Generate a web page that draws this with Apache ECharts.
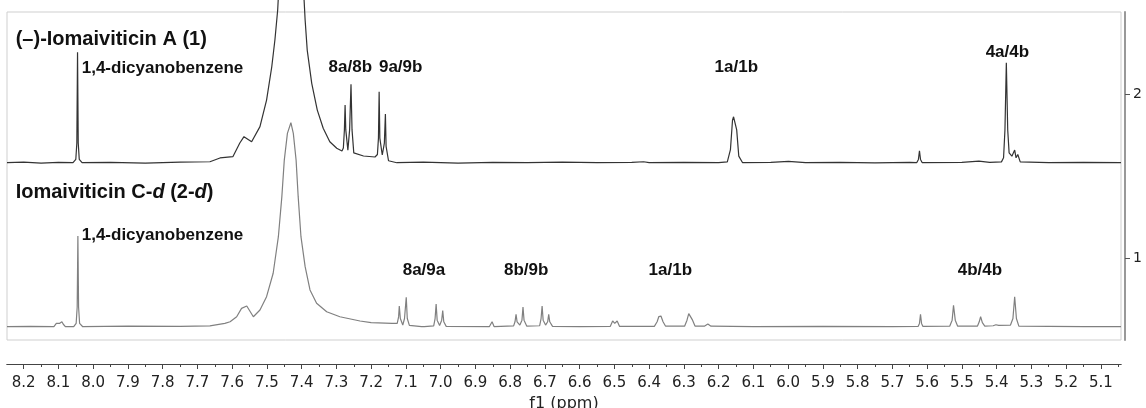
<!DOCTYPE html>
<html>
<head>
<meta charset="utf-8">
<script src="https://cdn.jsdelivr.net/npm/echarts@6/dist/echarts.min.js"></script>
<style>
  html, body { margin: 0; padding: 0; background: #fff; }
  #main { width: 1146px; height: 408px; }
</style>
</head>
<body>
<div id="main"></div>
<script>
  // axis range (ppm, shown high -> low)
  var ppmMin = 5.042, ppmMax = 8.248;
  var majorTicks = [8.2, 8.1, 8.0, 7.9, 7.8, 7.7, 7.6, 7.5, 7.4, 7.3, 7.2, 7.1, 7.0, 6.9, 6.8, 6.7,
    6.6, 6.5, 6.4, 6.3, 6.2, 6.1, 6.0, 5.9, 5.8, 5.7, 5.6, 5.5, 5.4, 5.3, 5.2, 5.1];
  var minorTicks = [8.15, 8.05, 7.95, 7.85, 7.75, 7.65, 7.55, 7.45, 7.35, 7.25, 7.15, 7.05, 6.95, 6.85,
    6.75, 6.65, 6.55, 6.45, 6.35, 6.25, 6.15, 6.05, 5.95, 5.85, 5.75, 5.65, 5.55, 5.45, 5.35, 5.25, 5.15, 5.05];
  var stackTicks = [1, 2];

  // stacked spectra: baseline of each trace on the stack axis
  var topOffset = 1.581;
  var botOffset = 0.581;

  // (-)-lomaiviticin A (1)
  var topPpm = [8.248, 8.20, 8.15, 8.10, 8.058, 8.050, 8.047, 8.045, 8.043, 8.040, 8.032, 7.95, 7.85, 7.75,
    7.664, 7.635, 7.598, 7.578, 7.566, 7.544, 7.520, 7.501, 7.486, 7.477, 7.469, 7.460, 7.430, 7.400,
    7.393, 7.390, 7.384, 7.371, 7.355, 7.338, 7.319, 7.299, 7.284, 7.280, 7.277, 7.275, 7.273, 7.267,
    7.262, 7.258, 7.255, 7.250, 7.222, 7.189, 7.182, 7.179, 7.177, 7.175, 7.168, 7.162, 7.159, 7.157,
    7.150, 7.126, 7.05, 6.95, 6.85, 6.75, 6.65, 6.55, 6.45, 6.416, 6.40, 6.30, 6.20, 6.175, 6.166, 6.160,
    6.157, 6.153, 6.148, 6.142, 6.131, 6.05, 5.999, 5.95, 5.85, 5.75, 5.65, 5.630, 5.625, 5.622, 5.619,
    5.614, 5.50, 5.451, 5.42, 5.386, 5.380, 5.376, 5.372, 5.368, 5.364, 5.359, 5.356, 5.348, 5.344,
    5.339, 5.332, 5.25, 5.15, 5.042];
  var topInt = [0, 0.003, -0.002, 0.002, 0, 0.02, 0.12, 0.673, 0.12, 0.02, 0, 0.002, -0.002, 0.003,
    0.006, 0.029, 0.037, 0.12, 0.159, 0.128, 0.220, 0.382, 0.585, 0.748, 0.931, 1.3, 1.8, 1.3,
    0.992, 0.870, 0.687, 0.484, 0.321, 0.210, 0.128, 0.088, 0.071, 0.09, 0.2, 0.352, 0.2, 0.077,
    0.2, 0.478, 0.2, 0.06, 0.041, 0.035, 0.05, 0.15, 0.433, 0.15, 0.047, 0.12, 0.297, 0.1,
    0.012, 0, 0.003, -0.002, 0.002, 0, 0.003, 0.001, 0.002, 0.006, 0.001, 0.002, 0, 0.005, 0.08, 0.26,
    0.28, 0.275, 0.2, 0.04, 0, 0.002, 0.008, 0, 0.002, -0.001, 0.002, 0, 0.02, 0.073, 0.02,
    0, 0.002, 0.01, 0.002, 0.005, 0.03, 0.2, 0.61, 0.2, 0.06, 0.053, 0.04, 0.077, 0.03,
    0.05, 0.005, 0, 0.002, 0];

  // lomaiviticin C-d (2-d)
  var botPpm = [8.248, 8.18, 8.113, 8.106, 8.104, 8.097, 8.090, 8.086, 8.080, 8.056, 8.049, 8.046, 8.044,
    8.042, 8.039, 8.030, 7.90, 7.75, 7.664, 7.621, 7.606, 7.587, 7.573, 7.558, 7.539, 7.520, 7.501,
    7.482, 7.467, 7.457, 7.450, 7.441, 7.431, 7.424, 7.416, 7.410, 7.402, 7.390, 7.376, 7.357, 7.328,
    7.290, 7.232, 7.20, 7.14, 7.125, 7.121, 7.119, 7.116, 7.109, 7.104, 7.099, 7.096, 7.090, 7.055,
    7.051, 7.047, 7.020, 7.016, 7.013, 7.010, 7.003, 6.997, 6.994, 6.991, 6.984, 6.86, 6.852, 6.846,
    6.790, 6.786, 6.783, 6.780, 6.772, 6.766, 6.763, 6.760, 6.752, 6.715, 6.711, 6.708, 6.705, 6.698,
    6.692, 6.689, 6.686, 6.678, 6.60, 6.512, 6.505, 6.499, 6.492, 6.485, 6.385, 6.377, 6.372, 6.366,
    6.360, 6.353, 6.298, 6.291, 6.286, 6.281, 6.275, 6.268, 6.240, 6.231, 6.222, 6.10, 5.90, 5.70,
    5.626, 5.622, 5.619, 5.616, 5.612, 5.535, 5.528, 5.524, 5.519, 5.512, 5.455, 5.450, 5.446, 5.441,
    5.434, 5.410, 5.402, 5.394, 5.360, 5.353, 5.348, 5.343, 5.336, 5.25, 5.15, 5.042];
  var botInt = [0, 0.002, 0, 0.02, 0.030, 0.02, 0.030, 0.015, 0, 0, 0.02, 0.12, 0.553,
    0.12, 0.02, 0, 0.003, 0.002, 0.005, 0.02, 0.03, 0.061, 0.112, 0.126, 0.061, 0.102, 0.183,
    0.326, 0.549, 0.793, 1.016, 1.179, 1.244, 1.179, 1.016, 0.793, 0.549, 0.366, 0.224, 0.143, 0.091,
    0.061, 0.035, 0.025, 0.02, 0.02, 0.06, 0.126, 0.05, 0.01, 0.05, 0.179, 0.05, 0.008, 0,
    0.010, 0, 0.005, 0.05, 0.138, 0.04, 0.008, 0.04, 0.098, 0.03, 0.002, 0, 0.030, 0,
    0.005, 0.03, 0.076, 0.03, 0.01, 0.04, 0.120, 0.04, 0.003, 0.006, 0.05, 0.126, 0.04, 0.01,
    0.03, 0.076, 0.03, 0.002, 0.001, 0.002, 0.035, 0.02, 0.035, 0.002, 0.002, 0.03, 0.062, 0.065,
    0.03, 0.004, 0.003, 0.04, 0.080, 0.082, 0.04, 0.004, 0.004, 0.016, 0.003, 0.001, 0.002, 0.001,
    0.002, 0.02, 0.076, 0.02, 0.002, 0.003, 0.04, 0.130, 0.04, 0.003, 0.004, 0.03, 0.061, 0.025,
    0.004, 0.006, 0.012, 0.008, 0.01, 0.05, 0.183, 0.05, 0.004, 0.002, 0, 0];

  // annotations: text, ppm, stack value, align
  var labelText = ['(–)-Iomaiviticin A (1)', '{b|Iomaiviticin C-}{i|d}{b| (2-}{i|d}{b|)}',
    '1,4-dicyanobenzene', '1,4-dicyanobenzene', '8a/8b', '9a/9b', '1a/1b', '4a/4b',
    '8a/9a', '8b/9b', '1a/1b', '4b/4b'];
  var labelPpm = [8.223, 8.223, 8.033, 8.033, 7.260, 7.115, 6.149, 5.369, 7.048, 6.754, 6.339, 5.448];
  var labelVal = [2.332, 1.401, 2.159, 1.136, 2.162, 2.162, 2.162, 2.254, 0.927, 0.927, 0.927, 0.927];
  var labelSize = [20, 20, 17, 17, 17, 17, 17, 17, 17, 17, 17, 17];
  var labelAlign = ['left', 'left', 'left', 'left', 'center', 'center', 'center', 'center',
    'center', 'center', 'center', 'center'];

  function buildSeries(ppm, vals, offset) {
    return ppm.map(function (p, i) {
      return [p, vals[i] + offset];
    });
  }

  var tickFont = 'DejaVu Sans';
  var textFont = '"Liberation Sans", Arial, Helvetica, sans-serif';

  var myChart = echarts.init(document.getElementById('main'), null, {renderer: 'canvas'});
  var option = {
    backgroundColor: '#fff',
    animation: false,
    grid: {
      left: 7,
      right: 25,
      top: 12,
      bottom: 68,
      outerBoundsMode: 'none',
      containLabel: false,
      show: true,
      borderColor: '#cfcfcf',
      borderWidth: 1,
      backgroundColor: 'transparent'
    },
    xAxis: [
      {
        type: 'value',
        min: ppmMin,
        max: ppmMax,
        inverse: true,
        position: 'bottom',
        offset: 24,
        name: 'f1 (ppm)',
        nameLocation: 'middle',
        nameGap: 31,
        nameTextStyle: {fontFamily: tickFont, fontSize: 16, color: '#222'},
        axisLine: {show: true, onZero: false, lineStyle: {color: '#444', width: 1}},
        axisTick: {show: true, length: 5, customValues: majorTicks, lineStyle: {color: '#444'}},
        axisLabel: {
          show: true,
          customValues: majorTicks,
          margin: 12,
          fontFamily: tickFont,
          fontSize: 15,
          color: '#222',
          formatter: function (v) {
            return v.toFixed(1);
          }
        },
        splitLine: {show: false}
      },
      {
        type: 'value',
        min: ppmMin,
        max: ppmMax,
        inverse: true,
        position: 'bottom',
        offset: 24,
        axisLine: {show: true, onZero: false, lineStyle: {color: '#444', width: 1}},
        axisTick: {show: true, length: 3, customValues: minorTicks, lineStyle: {color: '#444'}},
        axisLabel: {show: false},
        splitLine: {show: false}
      }
    ],
    yAxis: {
      type: 'value',
      min: 0.5,
      max: 2.5,
      position: 'right',
      offset: 4,
      axisLine: {show: true, onZero: false, lineStyle: {color: '#999', width: 2}},
      axisTick: {show: true, length: 5, customValues: stackTicks, lineStyle: {color: '#555'}},
      axisLabel: {
        show: true,
        customValues: stackTicks,
        margin: 8,
        fontFamily: tickFont,
        fontSize: 14,
        color: '#222'
      },
      splitLine: {show: false}
    },
    series: [
      {
        name: 'lomaiviticin A',
        type: 'line',
        xAxisIndex: 0,
        showSymbol: false,
        clip: false,
        lineStyle: {color: '#333', width: 1.2},
        data: buildSeries(topPpm, topInt, topOffset)
      },
      {
        name: 'lomaiviticin C-d',
        type: 'line',
        xAxisIndex: 0,
        showSymbol: false,
        lineStyle: {color: '#808080', width: 1.2},
        data: buildSeries(botPpm, botInt, botOffset)
      }
    ]
  };
  myChart.setOption(option, true);

  // text annotations anchored to data coordinates
  var graphics = labelText.map(function (t, i) {
    var pt = myChart.convertToPixel({xAxisIndex: 0, yAxisIndex: 0}, [labelPpm[i], labelVal[i]]);
    var style = {
      x: pt[0],
      y: pt[1],
      text: t,
      align: labelAlign[i],
      verticalAlign: 'middle',
      fill: '#111',
      fontFamily: textFont,
      fontWeight: 'bold',
      fontSize: labelSize[i]
    };
    if (t.indexOf('{b|') === 0) {
      style.rich = {
        b: {fontFamily: textFont, fontWeight: 'bold', fontSize: labelSize[i], fill: '#111'},
        i: {fontFamily: textFont, fontWeight: 'bold', fontStyle: 'italic', fontSize: labelSize[i], fill: '#111'}
      };
    }
    return {type: 'text', z: 100, style: style};
  });
  myChart.setOption({graphic: graphics});
</script>
</body>
</html>
